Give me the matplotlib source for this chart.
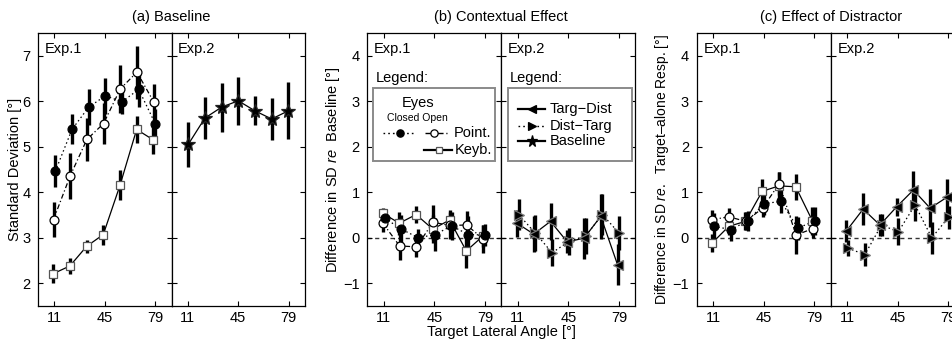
## imports
import matplotlib
matplotlib.use("Agg")
import matplotlib.pyplot as plt
from matplotlib.patches import Rectangle

## fonts
plt.rcParams['font.family'] = ['Liberation Sans', 'DejaVu Sans']
plt.rcParams['mathtext.fontset'] = 'custom'
plt.rcParams['mathtext.rm'] = 'Liberation Sans'
plt.rcParams['mathtext.it'] = 'Liberation Sans:italic'
plt.rcParams['font.size'] = 10

## data
angles = [11.25, 22.5, 33.75, 45, 56.25, 67.5, 78.75]
tick_angles = [11, 45, 79]

## (a) baseline
a_closed = [4.46, 5.38, 5.87, 6.12, 5.99, 6.26, 5.50]
a_closed_err = [0.35, 0.33, 0.40, 0.40, 0.27, 0.38, 0.33]
a_open = [3.40, 4.36, 5.16, 5.51, 6.27, 6.64, 5.99]
a_open_err = [0.39, 0.50, 0.48, 0.46, 0.53, 0.58, 0.40]
a_keyb = [2.21, 2.38, 2.81, 3.07, 4.15, 5.38, 5.15]
a_keyb_err = [0.21, 0.17, 0.15, 0.22, 0.33, 0.30, 0.30]
a_exp2 = [5.05, 5.63, 5.87, 6.01, 5.79, 5.61, 5.79]
a_exp2_err = [0.50, 0.46, 0.54, 0.53, 0.32, 0.46, 0.63]

## (b) contextual effect
b_closed = [0.43, 0.19, 0.00, 0.07, 0.26, 0.07, 0.06]
b_closed_err = [0.20, 0.30, 0.20, 0.37, 0.30, 0.40, 0.25]
b_open = [0.32, -0.18, -0.20, 0.34, 0.27, 0.28, -0.03]
b_open_err = [0.20, 0.30, 0.22, 0.38, 0.30, 0.30, 0.30]
b_keyb = [0.54, 0.32, 0.51, 0.19, 0.39, -0.29, 0.04]
b_keyb_err = [0.12, 0.25, 0.19, 0.30, 0.22, 0.37, 0.25]
b_td = [0.32, 0.08, 0.36, -0.09, -0.01, 0.47, -0.59]
b_td_err = [0.30, 0.40, 0.40, 0.25, 0.45, 0.50, 0.45]
b_dt = [0.51, 0.10, -0.33, -0.08, 0.04, 0.51, 0.10]
b_dt_err = [0.35, 0.40, 0.30, 0.30, 0.40, 0.45, 0.37]

## (c) effect of distractor
c_closed = [0.25, 0.18, 0.37, 0.75, 0.80, 0.21, 0.37]
c_closed_err = [0.30, 0.25, 0.22, 0.25, 0.25, 0.25, 0.30]
c_open = [0.40, 0.46, 0.36, 0.65, 1.19, 0.06, 0.20]
c_open_err = [0.20, 0.20, 0.20, 0.20, 0.25, 0.42, 0.20]
c_keyb = [-0.12, 0.25, 0.36, 1.02, 1.14, 1.12, 0.37]
c_keyb_err = [0.20, 0.20, 0.20, 0.27, 0.30, 0.28, 0.30]
c_td = [0.15, 0.63, 0.28, 0.68, 1.05, 0.65, 0.89]
c_td_err = [0.25, 0.35, 0.25, 0.20, 0.42, 0.42, 0.40]
c_dt = [-0.23, -0.37, 0.28, 0.13, 0.72, 0.00, 0.45]
c_dt_err = [0.18, 0.25, 0.25, 0.30, 0.35, 0.35, 0.25]

## styles for each condition (x jitter, line, marker)
STYLES = {
    'closed': dict(dx=0.4, ls=(0, (1.2, 2.2)), marker='o', mfc='k', mec='k', ms=6.4),
    'open': dict(dx=-0.8, ls=(0, (4, 2, 1, 2)), marker='o', mfc='w', mec='k', ms=6.4),
    'keyb': dict(dx=-1.0, ls='-', marker='s', mfc='w', mec='#555555', ms=5.7),
    'td': dict(dx=-0.7, ls='-', marker='<', mfc='k', mec='#777777', ms=7.2),
    'dt': dict(dx=0.4, ls=(0, (1.2, 2.2)), marker='>', mfc='k', mec='#777777', ms=7.2),
    'base': dict(dx=0.0, ls='-', marker='*', mfc='k', mec='#222222', ms=10),
}

W, H = 952, 340
fig = plt.figure(figsize=(W / 100, H / 100), dpi=100)


def px_axes(left, right, top=33, bottom=306):
    """create an axes from pixel edges of the reference"""
    return fig.add_axes([left / W, (H - bottom) / H, (right - left) / W, (bottom - top) / H])


def style_axes(ax, ylim, yticks, show_y):
    ax.set_xlim(0, 90)
    ax.set_ylim(*ylim)
    ax.set_xticks(tick_angles)
    ax.set_yticks(yticks)
    ax.tick_params(direction='in', top=True, right=True, length=3.5, width=0.8,
                   labelsize=10.5, pad=3.5)
    ax.tick_params(axis='y', pad=5.5)
    if not show_y:
        ax.set_yticklabels([])
    for sp in ax.spines.values():
        sp.set_linewidth(0.9)


def draw_series(ax, key, y, yerr):
    st = STYLES[key]
    x = [a + st['dx'] for a in angles]
    ## error bars go first, below the markers
    ax.errorbar(x, y, yerr=yerr, fmt='none', ecolor='k', elinewidth=2.4, capsize=0, zorder=2)
    ax.plot(x, y, color='k', lw=0.9, ls=st['ls'], zorder=3)
    ax.plot(x, y, ls='none', marker=st['marker'], mfc=st['mfc'], mec=st['mec'],
            mew=0.9, ms=st['ms'], zorder=4)


def swatch(ax, x0, x1, xm, y, key, scale=0.82):
    st = STYLES[key]
    ax.plot([x0, x1], [y, y], transform=ax.transAxes, color='k', lw=1.6 if st['ls'] == '-' else 1.0,
            ls=st['ls'], clip_on=False, zorder=6)
    ax.plot([xm], [y], transform=ax.transAxes, ls='none', marker=st['marker'], mfc=st['mfc'],
            mec='k' if st['mfc'] == 'k' else st['mec'], mew=0.9, ms=st['ms'] * scale,
            clip_on=False, zorder=7)


def legend_box(ax, x0, x1):
    ax.text(0.06, 0.834, 'Legend:', transform=ax.transAxes, fontsize=10.5, va='center', ha='left')
    ax.add_patch(Rectangle((x0, 0.532), x1 - x0, 0.797 - 0.532, transform=ax.transAxes,
                           fill=True, fc='w', ec='#8a8a8a', lw=1.4, zorder=5))


def exp_label(ax, txt):
    ax.text(0.05, 0.94, txt, transform=ax.transAxes, fontsize=10.5, va='center', ha='left')


## ---------------- (a) Baseline ----------------
ax_a1 = px_axes(38, 171.5)
ax_a2 = px_axes(171.5, 305)
for ax in (ax_a1, ax_a2):
    style_axes(ax, (1.5, 7.5), [2, 3, 4, 5, 6, 7], ax is ax_a1)
draw_series(ax_a1, 'keyb', a_keyb, a_keyb_err)
draw_series(ax_a1, 'open', a_open, a_open_err)
draw_series(ax_a1, 'closed', a_closed, a_closed_err)
draw_series(ax_a2, 'base', a_exp2, a_exp2_err)
exp_label(ax_a1, 'Exp.1')
exp_label(ax_a2, 'Exp.2')
ax_a1.set_ylabel('Standard Deviation [°]', fontsize=10.5)
ax_a1.yaxis.set_label_coords(-0.12, 0.5)
fig.text(171.5 / W, (H - 17) / H, '(a) Baseline', ha='center', va='center', fontsize=10.5)

## ---------------- (b) Contextual Effect ----------------
ax_b1 = px_axes(367.3, 501.3)
ax_b2 = px_axes(501.3, 635.3)
for ax in (ax_b1, ax_b2):
    style_axes(ax, (-1.5, 4.5), [-1, 0, 1, 2, 3, 4], ax is ax_b1)
    ax.axhline(0, color='#333333', lw=1.0, ls=(0, (3, 2.5)), zorder=1)
draw_series(ax_b1, 'keyb', b_keyb, b_keyb_err)
draw_series(ax_b1, 'open', b_open, b_open_err)
draw_series(ax_b1, 'closed', b_closed, b_closed_err)
draw_series(ax_b2, 'dt', b_dt, b_dt_err)
draw_series(ax_b2, 'td', b_td, b_td_err)
exp_label(ax_b1, 'Exp.1')
exp_label(ax_b2, 'Exp.2')
ax_b1.set_ylabel(r'Difference in SD $\it{re}$  Baseline [°]', fontsize=10.5)
ax_b1.yaxis.set_label_coords(-0.19, 0.5)
fig.text(501.3 / W, (H - 17) / H, '(b) Contextual Effect', ha='center', va='center', fontsize=10.5)
fig.text(501.3 / W, (H - 332) / H, 'Target Lateral Angle [°]', ha='center', va='center', fontsize=10.5)

## legend of Exp.1
legend_box(ax_b1, 0.045, 0.953)
ax_b1.text(0.381, 0.745, 'Eyes', transform=ax_b1.transAxes, fontsize=10.5, ha='center', va='center', zorder=8)
ax_b1.text(0.371, 0.688, 'Closed Open', transform=ax_b1.transAxes, fontsize=7.5, ha='center', va='center', zorder=8)
swatch(ax_b1, 0.116, 0.356, 0.244, 0.633, 'closed')
swatch(ax_b1, 0.433, 0.593, 0.50, 0.633, 'open')
swatch(ax_b1, 0.425, 0.634, 0.535, 0.571, 'keyb')
ax_b1.text(0.642, 0.633, 'Point.', transform=ax_b1.transAxes, fontsize=10.5, ha='left', va='center', zorder=8)
ax_b1.text(0.649, 0.571, 'Keyb.', transform=ax_b1.transAxes, fontsize=10.5, ha='left', va='center', zorder=8)

## legend of Exp.2
legend_box(ax_b2, 0.048, 0.973)
for key, lab, yy in [('td', 'Targ\u2212Dist', 0.72), ('dt', 'Dist\u2212Targ', 0.659), ('base', 'Baseline', 0.604)]:
    swatch(ax_b2, 0.122, 0.326, 0.227, yy, key)
    ax_b2.text(0.363, yy, lab, transform=ax_b2.transAxes, fontsize=10.5, ha='left', va='center', zorder=8)

## ---------------- (c) Effect of Distractor ----------------
ax_c1 = px_axes(696.7, 830.7)
ax_c2 = px_axes(830.7, 964.7)
for ax in (ax_c1, ax_c2):
    style_axes(ax, (-1.5, 4.5), [-1, 0, 1, 2, 3, 4], ax is ax_c1)
    ax.axhline(0, color='#333333', lw=1.0, ls=(0, (3, 2.5)), zorder=1)
draw_series(ax_c1, 'keyb', c_keyb, c_keyb_err)
draw_series(ax_c1, 'open', c_open, c_open_err)
draw_series(ax_c1, 'closed', c_closed, c_closed_err)
draw_series(ax_c2, 'dt', c_dt, c_dt_err)
draw_series(ax_c2, 'td', c_td, c_td_err)
exp_label(ax_c1, 'Exp.1')
exp_label(ax_c2, 'Exp.2')
ax_c1.set_ylabel('Difference in SD $\\it{re.}$  Target\u2013alone Resp. [°]', fontsize=10)
ax_c1.yaxis.set_label_coords(-0.19, 0.5)
fig.text(830.7 / W, (H - 17) / H, '(c) Effect of Distractor', ha='center', va='center', fontsize=10.5)

fig.savefig('out.png', dpi=100, facecolor='white')
